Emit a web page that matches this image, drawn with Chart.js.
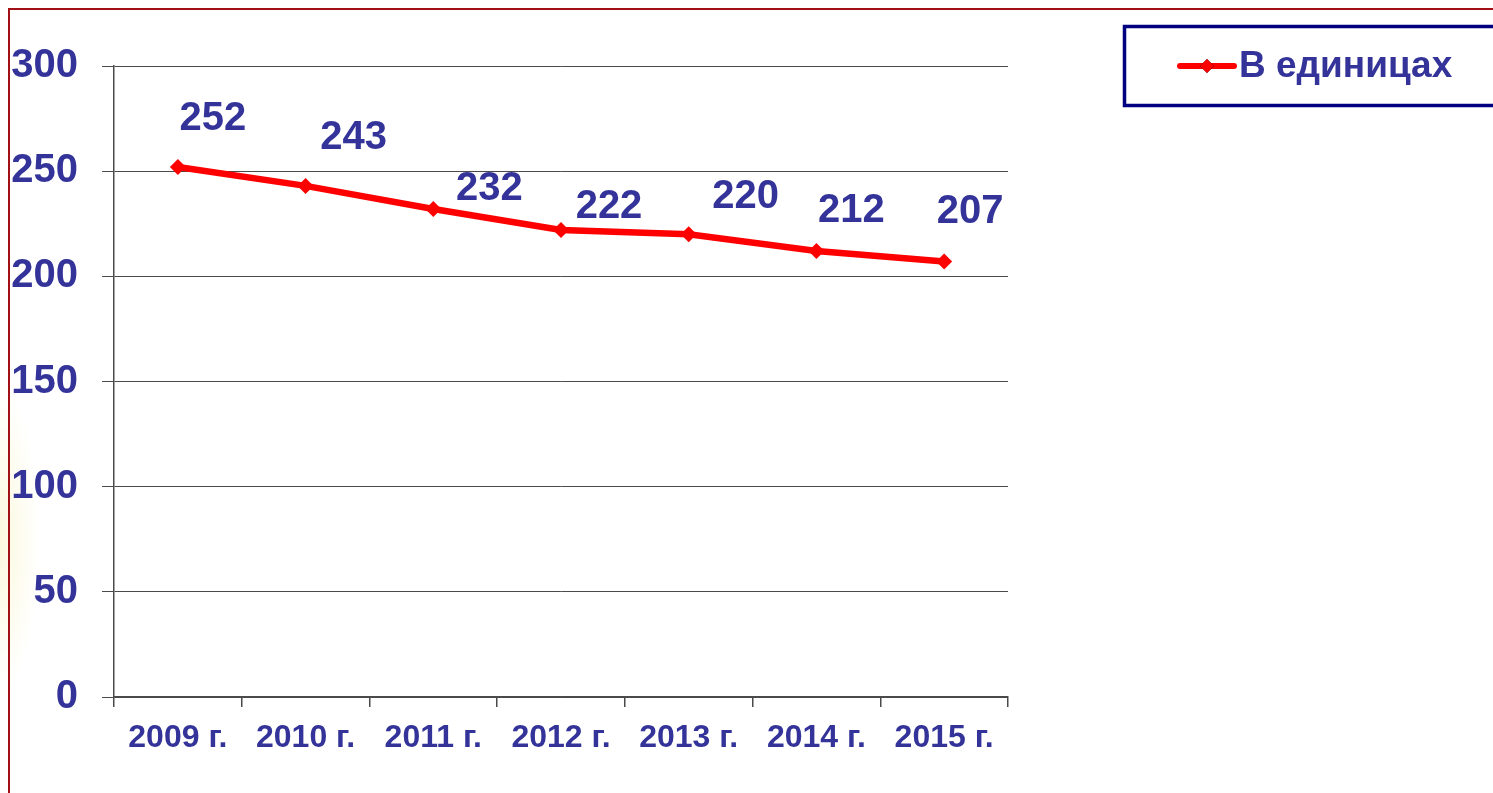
<!DOCTYPE html>
<html>
<head>
<meta charset="utf-8">
<script src="https://cdn.jsdelivr.net/npm/chart.js@4.4.1/dist/chart.umd.min.js"></script>
<style>
    html, body { margin: 0; padding: 0; background: #fff; }
    body { width: 1493px; height: 793px; position: relative; overflow: hidden; }
    .frame {
        position: absolute; left: 8px; top: 8px; right: -10px; bottom: -10px;
        border-left: 2px solid #a01015; border-top: 2px solid #a01015;
    }
    .glow {
        position: absolute; left: -40px; top: 380px; width: 80px; height: 320px;
        background: radial-gradient(ellipse at center, rgba(250,245,200,0.6), rgba(255,255,255,0) 70%);
    }
    #chart { position: absolute; left: 0; top: 0; }
</style>
</head>
<body>
<div class="glow"></div>
<div class="frame"></div>
<canvas id="chart" width="1493" height="793"></canvas>
<script>
// Chart data
const years = ['2009 г.', '2010 г.', '2011 г.', '2012 г.', '2013 г.', '2014 г.', '2015 г.'];
const units = [252, 243, 232, 222, 220, 212, 207];
const seriesName = 'В единицах';
const yTicks = [0, 50, 100, 150, 200, 250, 300];

const textColor = '#333399';
const gridColor = '#4a4a4a';
const fontFamily = '"Liberation Sans", Arial, sans-serif';

// the value labels were placed by hand in the original, so each has its own nudge (px)
const labelNudge = [[35, -37], [48, -37], [56, -9], [48, -12], [57, -26], [35, -29], [26, -39]];

// value labels above/right of each point
const valueLabels = {
    id: 'valueLabels',
    afterDatasetsDraw(chart) {
        const ctx = chart.ctx;
        const meta = chart.getDatasetMeta(0);
        ctx.save();
        ctx.font = 'bold 40px ' + fontFamily;
        ctx.fillStyle = textColor;
        ctx.textAlign = 'center';
        ctx.textBaseline = 'alphabetic';
        meta.data.forEach(function(pt, i) {
            const n = labelNudge[i];
            ctx.fillText(String(chart.data.datasets[0].data[i]), pt.x + n[0], pt.y + n[1]);
        });
        ctx.restore();
    }
};

// boxed legend in the top right corner
const boxLegend = {
    id: 'boxLegend',
    afterDraw(chart) {
        const ctx = chart.ctx;
        const ds = chart.data.datasets[0];
        ctx.save();
        ctx.strokeStyle = '#000080';
        ctx.lineWidth = 3.5;
        ctx.strokeRect(1124.5, 26.5, 420, 79);

        ctx.strokeStyle = ds.borderColor;
        ctx.lineWidth = 6;
        ctx.lineCap = 'round';
        ctx.beginPath();
        ctx.moveTo(1180, 66);
        ctx.lineTo(1234, 66);
        ctx.stroke();
        Chart.helpers.drawPoint(ctx, { pointStyle: 'rectRot', radius: 7, borderWidth: 0 }, 1207, 66);
        ctx.fillStyle = ds.borderColor;
        ctx.fill();

        ctx.font = 'bold 37px ' + fontFamily;
        ctx.fillStyle = textColor;
        ctx.textAlign = 'left';
        ctx.textBaseline = 'middle';
        ctx.fillText(ds.label, 1239, 67);
        ctx.restore();
    }
};

new Chart(document.getElementById('chart'), {
    type: 'line',
    data: {
        labels: years,
        datasets: [{
            label: seriesName,
            data: units,
            borderColor: '#ff0000',
            backgroundColor: '#ff0000',
            borderWidth: 6.5,
            pointStyle: 'rectRot',
            pointRadius: 8,
            pointBorderWidth: 0,
            tension: 0,
            fill: false
        }]
    },
    options: {
        responsive: false,
        animation: false,
        layout: { padding: { top: 66, right: 485, left: 0, bottom: 0 } },
        scales: {
            x: {
                offset: true,
                afterFit: function(scale) { scale.height = 96; },
                grid: {
                    offset: true,
                    drawOnChartArea: false,
                    drawTicks: true,
                    tickLength: 10,
                    color: gridColor,
                    lineWidth: 1.5
                },
                border: { display: true, color: gridColor, width: 1.5 },
                ticks: {
                    color: textColor,
                    font: { family: fontFamily, size: 32, weight: 'bold' },
                    padding: 12,
                    maxRotation: 0
                }
            },
            y: {
                min: 0,
                max: 300,
                afterFit: function(scale) { scale.width = 114; },
                afterBuildTicks: function(scale) {
                    scale.ticks = yTicks.map(function(v) { return { value: v }; });
                },
                grid: {
                    color: gridColor,
                    lineWidth: 1,
                    tickLength: 12
                },
                border: { display: true, color: gridColor, width: 1.5 },
                ticks: {
                    color: textColor,
                    font: { family: fontFamily, size: 40, weight: 'bold' },
                    padding: 24
                }
            }
        },
        plugins: {
            legend: { display: false },
            tooltip: { enabled: false }
        }
    },
    plugins: [valueLabels, boxLegend]
});
</script>
</body>
</html>
